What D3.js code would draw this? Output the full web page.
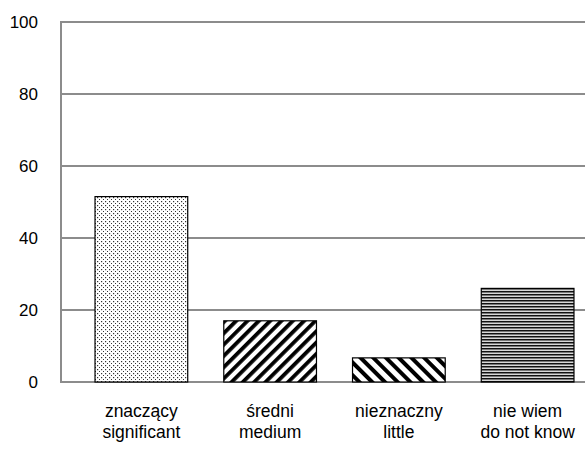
<!DOCTYPE html>
<html>
<head>
<meta charset="utf-8">
<script src="https://cdn.jsdelivr.net/npm/d3@7"></script>
<style>
  body { margin: 0; background: #fff; }
  svg { display: block; font-family: "Liberation Sans", Arial, sans-serif; }
</style>
</head>
<body>
<svg id="chart"></svg>
<script>
// data
const categoriesPl = ["znaczący", "średni", "nieznaczny", "nie wiem"];
const categoriesEn = ["significant", "medium", "little", "do not know"];
const values = [51.5, 17, 6.7, 26];
const yTicks = [0, 20, 40, 60, 80, 100];
const patternIds = ["dots", "diagUp", "diagDown", "hlines"];

const width = 585, height = 450;
const svg = d3.select("#chart").attr("width", width).attr("height", height);

// patterns
const defs = svg.append("defs");

const dots = defs.append("pattern").attr("id", "dots")
    .attr("patternUnits", "userSpaceOnUse").attr("width", 4).attr("height", 4);
dots.append("rect").attr("width", 4).attr("height", 4).attr("fill", "#fff");
dots.append("rect").attr("x", 1).attr("y", 1).attr("width", 1.2).attr("height", 1.2).attr("fill", "#333");
dots.append("rect").attr("x", 3).attr("y", 3).attr("width", 1.2).attr("height", 1.2).attr("fill", "#333");

const up = defs.append("pattern").attr("id", "diagUp")
    .attr("patternUnits", "userSpaceOnUse").attr("width", 8).attr("height", 8)
    .attr("patternTransform", "rotate(45)");
up.append("rect").attr("width", 8).attr("height", 8).attr("fill", "#fff");
up.append("rect").attr("width", 3.8).attr("height", 8).attr("fill", "#000");

const down = defs.append("pattern").attr("id", "diagDown")
    .attr("patternUnits", "userSpaceOnUse").attr("width", 9).attr("height", 9)
    .attr("patternTransform", "rotate(-45)");
down.append("rect").attr("width", 9).attr("height", 9).attr("fill", "#fff");
down.append("rect").attr("width", 4).attr("height", 9).attr("fill", "#000");

const hl = defs.append("pattern").attr("id", "hlines")
    .attr("patternUnits", "userSpaceOnUse").attr("width", 4).attr("height", 3);
hl.append("rect").attr("width", 4).attr("height", 3).attr("fill", "#d8d8d8");
hl.append("rect").attr("y", 0).attr("width", 4).attr("height", 1).attr("fill", "#111");
hl.append("rect").attr("y", 1).attr("width", 4).attr("height", 1).attr("fill", "#777");

// scales
const x = d3.scaleBand()
    .domain(categoriesPl)
    .range([77, 592])
    .paddingInner(0.28)
    .paddingOuter(0.14);

const y = d3.scaleLinear().domain([0, 100]).range([382, 22]);

const plotLeft = 61, plotRight = 585;

// gridlines
svg.append("g")
    .selectAll("line")
    .data(yTicks)
    .enter().append("line")
    .attr("x1", plotLeft)
    .attr("x2", plotRight)
    .attr("y1", d => y(d))
    .attr("y2", d => y(d))
    .attr("stroke", "#8c8c8c")
    .attr("stroke-width", 2);

// left axis line
svg.append("line")
    .attr("x1", plotLeft).attr("x2", plotLeft)
    .attr("y1", y(100) - 1).attr("y2", y(0) + 1)
    .attr("stroke", "#8c8c8c")
    .attr("stroke-width", 2);

// y tick labels
svg.append("g")
    .selectAll("text")
    .data(yTicks)
    .enter().append("text")
    .attr("x", 38)
    .attr("y", d => y(d))
    .attr("dy", "0.36em")
    .attr("text-anchor", "end")
    .attr("font-size", 17)
    .attr("fill", "#000")
    .text(d => d);

// bars
svg.append("g")
    .selectAll("rect")
    .data(values)
    .enter().append("rect")
    .attr("x", (d, i) => x(categoriesPl[i]))
    .attr("y", d => y(d))
    .attr("width", x.bandwidth())
    .attr("height", d => y(0) - y(d))
    .attr("fill", (d, i) => `url(#${patternIds[i]})`)
    .attr("stroke", "#000")
    .attr("stroke-width", 1.2);

// category labels
const lab = svg.append("g")
    .selectAll("text")
    .data(categoriesPl)
    .enter().append("text")
    .attr("text-anchor", "middle")
    .attr("font-size", 17.5)
    .attr("fill", "#000");
lab.append("tspan").attr("x", d => x(d) + x.bandwidth() / 2).attr("y", 417).text(d => d);
lab.append("tspan").attr("x", d => x(d) + x.bandwidth() / 2).attr("y", 438)
    .text((d, i) => categoriesEn[i]);
</script>
</body>
</html>
